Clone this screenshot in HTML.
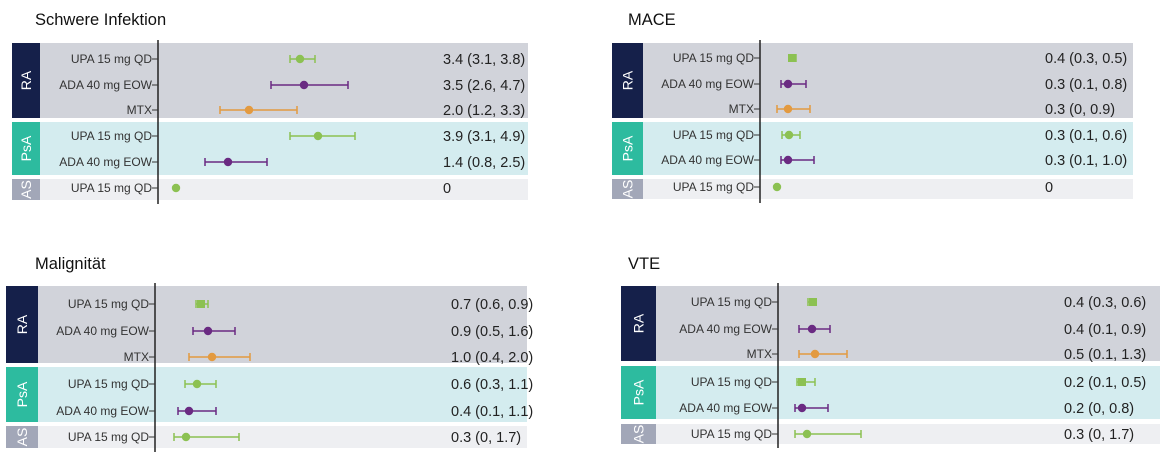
<!DOCTYPE html>
<html><head><meta charset="utf-8"><style>
html,body{margin:0;padding:0;background:#fff;width:1160px;height:465px;overflow:hidden}
svg{display:block}
.t{font-family:"Liberation Sans",sans-serif;font-size:16.5px;fill:#111}
.l{font-family:"Liberation Sans",sans-serif;font-size:12px;fill:#333}
.v{font-family:"Liberation Sans",sans-serif;font-size:14.5px;fill:#222}
.g{font-family:"Liberation Sans",sans-serif;font-size:14px;fill:#fff}
</style></head><body>
<svg id="s" width="1160" height="465" xmlns="http://www.w3.org/2000/svg"></svg>
<script>
const G='#8cc152',P='#6a2a82',O='#e39a40';
const panels=[
{title:'Schwere Infektion',tx:35,ty:25,L:12,D:40,R:528,ax:158,bands:[[43,118],[122,175],[179,200]],rows:[59,85,110,136,162,188],
 pts:[[G,300,290,315],[P,304,271,348],[O,249,220,297],[G,318,290,355],[P,228,205,267],[G,176,0,0]],vx:443,
 vals:['3.4 (3.1, 3.8)','3.5 (2.6, 4.7)','2.0 (1.2, 3.3)','3.9 (3.1, 4.9)','1.4 (0.8, 2.5)','0']},
{title:'MACE',tx:628,ty:25,L:612,D:643,R:1133,ax:760,bands:[[43,118],[122,175],[179,199]],rows:[58,84,109,135,160,187],
 pts:[[G,792,789,796,1],[P,788,781,806],[O,788,777,810],[G,789,782,800],[P,788,781,814],[G,777,0,0]],vx:1045,
 vals:['0.4 (0.3, 0.5)','0.3 (0.1, 0.8)','0.3 (0, 0.9)','0.3 (0.1, 0.6)','0.3 (0.1, 1.0)','0']},
{title:'Malignität',tx:35,ty:269,L:6,D:38,R:527,ax:155,bands:[[286,363],[367,422],[426,448]],rows:[304,331,357,384,411,437],
 pts:[[G,201,196,208,1],[P,208,193,235],[O,212,189,250],[G,197,185,216],[P,189,178,216],[G,186,174,239]],vx:451,
 vals:['0.7 (0.6, 0.9)','0.9 (0.5, 1.6)','1.0 (0.4, 2.0)','0.6 (0.3, 1.1)','0.4 (0.1, 1.1)','0.3 (0, 1.7)']},
{title:'VTE',tx:628,ty:269,L:621,D:656,R:1160,ax:778,bands:[[286,361],[366,419],[424,444]],rows:[302,329,354,382,408,434],
 pts:[[G,813,808,816,1],[P,812,799,830],[O,815,799,847],[G,802,797,815,1],[P,802,795,828],[G,807,795,861]],vx:1064,
 vals:['0.4 (0.3, 0.6)','0.4 (0.1, 0.9)','0.5 (0.1, 1.3)','0.2 (0.1, 0.5)','0.2 (0, 0.8)','0.3 (0, 1.7)']}
];
const labs=['UPA 15 mg QD','ADA 40 mg EOW','MTX','UPA 15 mg QD','ADA 40 mg EOW','UPA 15 mg QD'];
const grp=[['RA','#15204a','#d1d3da'],['PsA','#2dbb9f','#d4ecef'],['AS','#a2a7b8','#eeeff2']];
let h='';
for(const p of panels){
 h+=`<text class="t" x="${p.tx}" y="${p.ty}">${p.title}</text>`;
 p.bands.forEach((b,i)=>{
  h+=`<rect x="${p.D}" y="${b[0]}" width="${p.R-p.D}" height="${b[1]-b[0]}" fill="${grp[i][2]}"/>`;
  h+=`<rect x="${p.L}" y="${b[0]}" width="${p.D-p.L}" height="${b[1]-b[0]}" fill="${grp[i][1]}"/>`;
  const cx=(p.L+p.D)/2+5,cy=(b[0]+b[1])/2;
  h+=`<text class="g" text-anchor="middle" transform="translate(${cx},${cy}) rotate(-90)">${grp[i][0]}</text>`;
 });
 const t=p.bands[0][0]-3,bt=p.bands[2][1]+4;
 h+=`<line x1="${p.ax}" y1="${t}" x2="${p.ax}" y2="${bt}" stroke="#222" stroke-width="1.5"/>`;
 p.rows.forEach((y,i)=>{
  h+=`<text class="l" text-anchor="end" x="${p.ax-6}" y="${y+4}">${labs[i]}</text>`;
  h+=`<line x1="${p.ax-6}" y1="${y}" x2="${p.ax}" y2="${y}" stroke="#333" stroke-width="1"/>`;
  const [c,x,a,b,sq]=p.pts[i];
  if(b>a){h+=`<line x1="${a}" y1="${y}" x2="${b}" y2="${y}" stroke="${c}" stroke-width="1.5"/>`;
   h+=`<line x1="${a}" y1="${y-4}" x2="${a}" y2="${y+4}" stroke="${c}" stroke-width="1.5"/><line x1="${b}" y1="${y-4}" x2="${b}" y2="${y+4}" stroke="${c}" stroke-width="1.5"/>`;}
  if(sq)h+=`<rect x="${x-4}" y="${y-4}" width="8" height="8" fill="${c}"/>`;
  else h+=`<circle cx="${x}" cy="${y}" r="4.2" fill="${c}"/>`;
  h+=`<text class="v" x="${p.vx}" y="${y+5}">${p.vals[i]}</text>`;
 });
}
document.getElementById('s').innerHTML=h;
</script>
</body></html>
